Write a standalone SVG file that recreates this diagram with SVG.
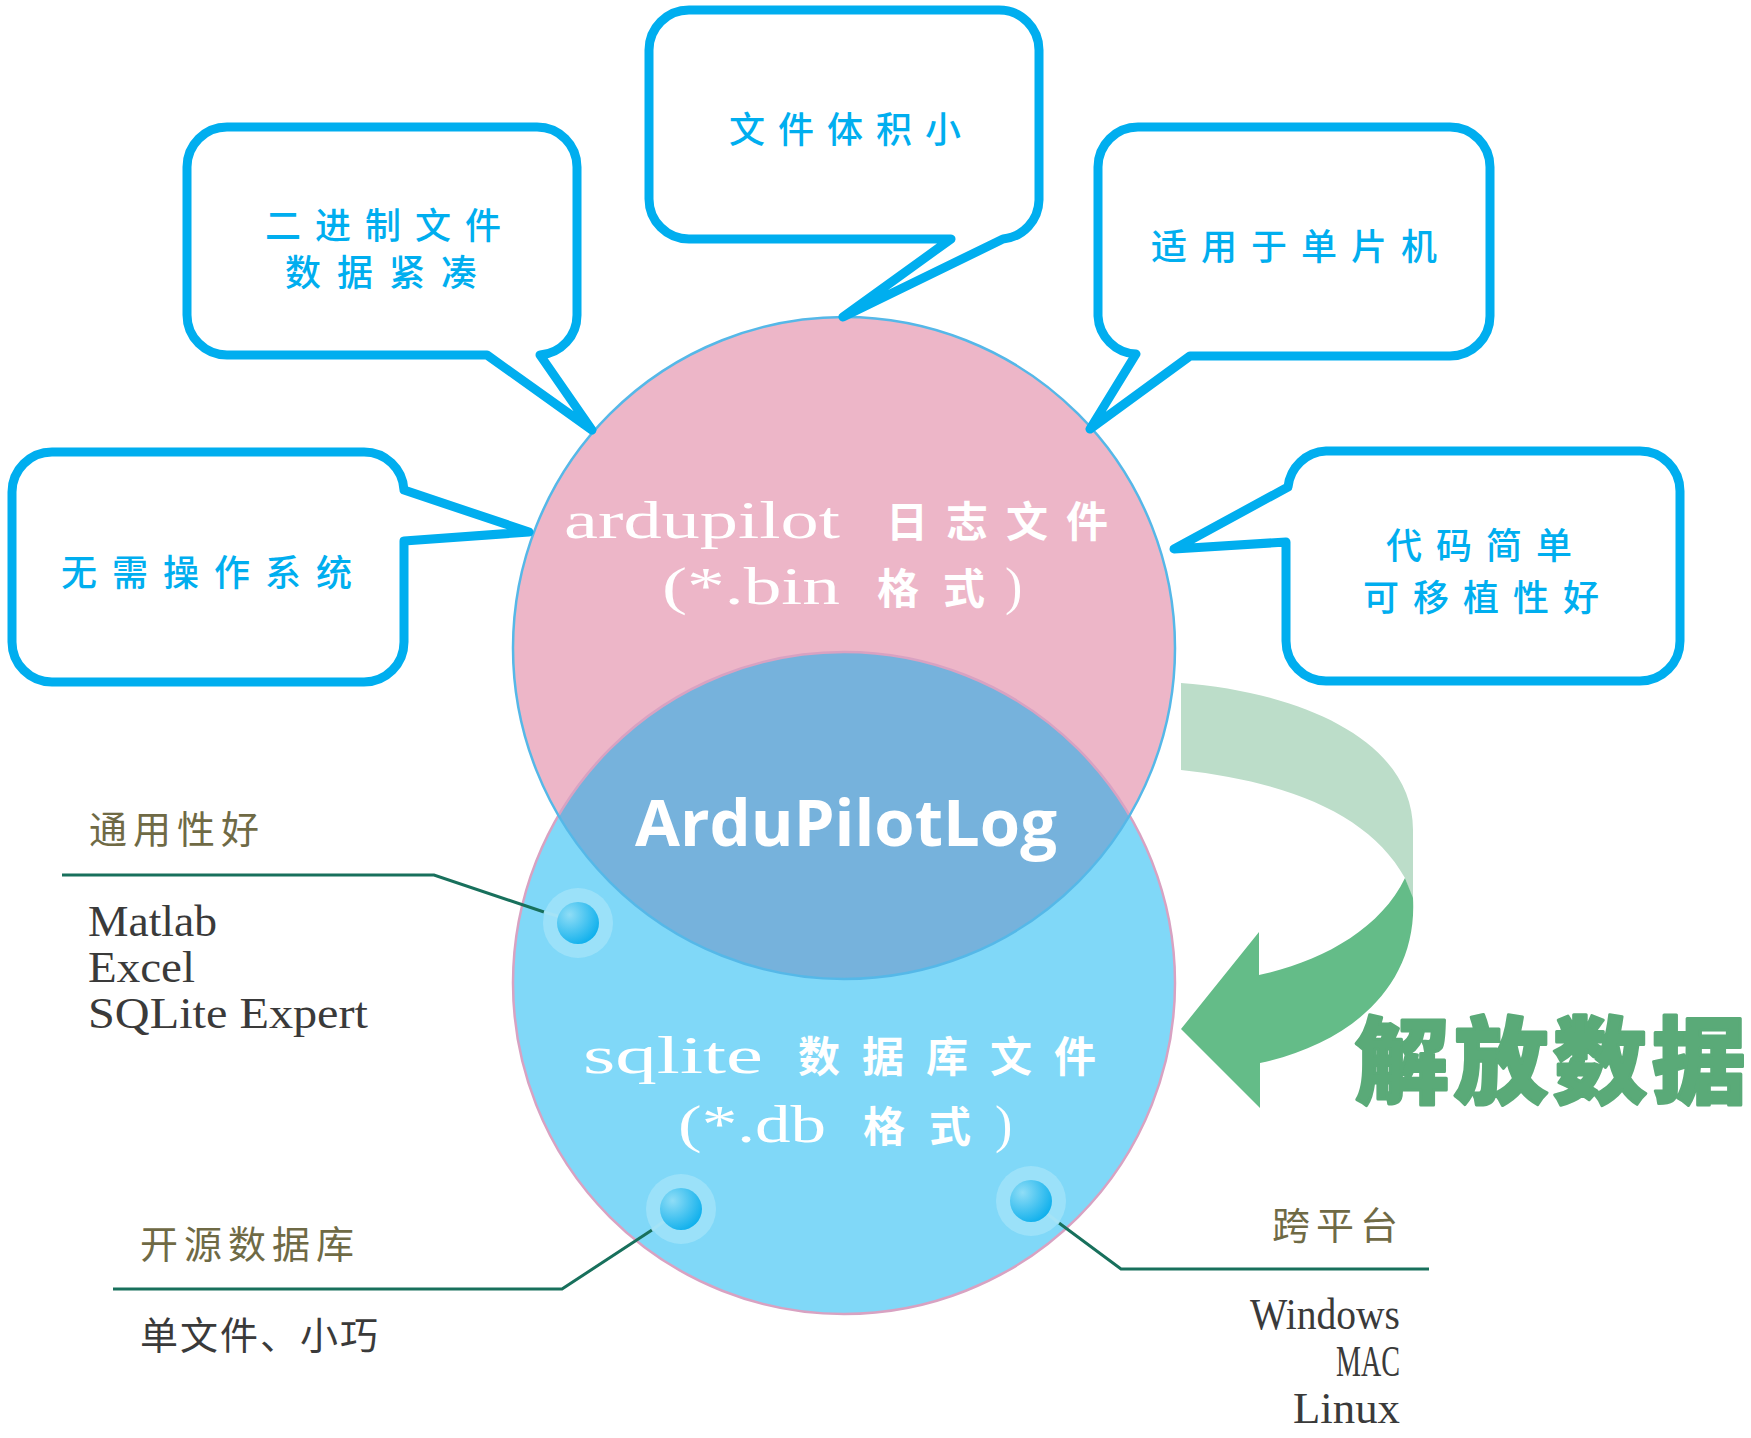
<svg xmlns="http://www.w3.org/2000/svg" width="1751" height="1438" viewBox="0 0 1751 1438">
<style>
.bubble{fill:#fff;stroke:#00AEEF;stroke-width:9;stroke-linejoin:round}
.btxt{font-family:"Noto Sans CJK SC",sans-serif;font-size:36px;fill:#00AEEF;font-weight:500}
.ser{font-family:"Liberation Serif",serif;fill:#fff}
.cjkw{font-family:"Noto Sans CJK SC",sans-serif;font-size:42px;font-weight:700;fill:#fff}
.title{font-family:"Noto Sans CJK SC",sans-serif;font-size:38px;fill:#6F6A45}
.note{font-family:"Noto Sans CJK SC",sans-serif;font-size:38px;fill:#3a3a3a}
.lat{font-family:"Liberation Serif",serif;font-size:44px;fill:#3a3a3a}
.lead{fill:none;stroke:#18705C;stroke-width:3}
.leadl{fill:none;stroke:#A6DDEA;stroke-width:3}
.halo{fill:#A4E4FA;fill-opacity:0.75}
.dot{fill:url(#dotg)}
</style>
<defs>
<radialGradient id="dotg" cx="0.3" cy="0.3" r="0.8">
<stop offset="0" stop-color="#8FDDF6"/>
<stop offset="1" stop-color="#0AAEEC"/>
</radialGradient>
<clipPath id="clipTop"><circle cx="844" cy="648" r="331"/></clipPath>
</defs>

<g id="venn">
<circle cx="844" cy="648" r="331" fill="#EDB6C8"/>
<circle cx="844" cy="983" r="331" fill="#80D8F8"/>
<circle cx="844" cy="983" r="331" fill="#76B2DC" clip-path="url(#clipTop)"/>
<circle cx="844" cy="983" r="331" fill="none" stroke="#D8A2C2" stroke-width="2.5"/>
<circle cx="844" cy="648" r="331" fill="none" stroke="#55B8E8" stroke-width="2.5"/>
</g>

<g id="node-bin">
<text class="ser" x="564" y="538" font-size="52" textLength="276" lengthAdjust="spacingAndGlyphs">ardupilot</text>
<text class="cjkw" x="886 946 1006 1066" y="537">日志文件</text>
<text class="ser" x="662" y="604" font-size="52" textLength="178" lengthAdjust="spacingAndGlyphs">(*.bin</text>
<text class="cjkw" x="877 943" y="604">格式</text>
<text class="ser" x="1005" y="604" font-size="52">)</text>
</g>

<g id="node-center">
<text x="635" y="846" font-family="Open Sans, Liberation Sans, sans-serif" font-weight="700" font-size="64" fill="#fff" textLength="422" lengthAdjust="spacingAndGlyphs">ArduPilotLog</text>
</g>

<g id="node-db">
<text class="ser" x="583" y="1073" font-size="52" textLength="180" lengthAdjust="spacingAndGlyphs">sqlite</text>
<text class="cjkw" x="798 862 926 990 1054" y="1072">数据库文件</text>
<text class="ser" x="678" y="1142" font-size="52" textLength="148" lengthAdjust="spacingAndGlyphs">(*.db</text>
<text class="cjkw" x="863 929" y="1142">格式</text>
<text class="ser" x="995" y="1142" font-size="52">)</text>
</g>

<g id="bubble-binary">
<path class="bubble" d="M227,127 H537 A40,40 0 0 1 577,167 V315 A40,40 0 0 1 540,355 L592,430 L487,355 H227 A40,40 0 0 1 187,315 V167 A40,40 0 0 1 227,127 Z"/>
<text class="btxt" x="265 315 365 415 465" y="239">二进制文件</text>
<text class="btxt" x="285 337 389 441" y="286">数据紧凑</text>
</g>

<g id="bubble-noos">
<path class="bubble" d="M52,452 H364 A40,40 0 0 1 404,490 L529,532 L404,541 V642 A40,40 0 0 1 364,682 H52 A40,40 0 0 1 12,642 V492 A40,40 0 0 1 52,452 Z"/>
<text class="btxt" x="61 112 163 214 265 316" y="586">无需操作系统</text>
</g>

<g id="bubble-small">
<path class="bubble" d="M689,10 H999 A40,40 0 0 1 1039,50 V200 A40,40 0 0 1 1003,239 L843,317 L951,239 H689 A40,40 0 0 1 649,199 V50 A40,40 0 0 1 689,10 Z"/>
<text class="btxt" x="729 778 827 876 925" y="143">文件体积小</text>
</g>

<g id="bubble-mcu">
<path class="bubble" d="M1138,127 H1450 A40,40 0 0 1 1490,167 V316 A40,40 0 0 1 1450,356 H1190 L1090,429 L1136,354 A40,40 0 0 1 1098,316 V167 A40,40 0 0 1 1138,127 Z"/>
<text class="btxt" x="1151 1201 1251 1301 1351 1401" y="260">适用于单片机</text>
</g>

<g id="bubble-code">
<path class="bubble" d="M1326,451 H1640 A40,40 0 0 1 1680,491 V641 A40,40 0 0 1 1640,681 H1326 A40,40 0 0 1 1286,641 V542 L1174,549 L1288,487 A40,40 0 0 1 1326,451 Z"/>
<text class="btxt" x="1386 1436 1486 1536" y="559">代码简单</text>
<text class="btxt" x="1363 1413 1463 1513 1563" y="611">可移植性好</text>
</g>

<g id="connectors">
<path class="lead" d="M62,875 H434 L544,912"/>
<path class="leadl" d="M544,912 L578,922"/>
<path class="lead" d="M113,1289 H562 L652,1230"/>
<path class="leadl" d="M652,1230 L681,1209"/>
<path class="lead" d="M1429,1269 H1121 L1059,1223"/>
<path class="leadl" d="M1059,1223 L1031,1201"/>
</g>

<g id="dot-general">
<circle class="halo" cx="578" cy="923" r="35"/>
<circle class="dot" cx="578" cy="923" r="21"/>
</g>
<g id="dot-open">
<circle class="halo" cx="681" cy="1209" r="35"/>
<circle class="dot" cx="681" cy="1209" r="21"/>
</g>
<g id="dot-cross">
<circle class="halo" cx="1031" cy="1201" r="35"/>
<circle class="dot" cx="1031" cy="1201" r="21"/>
</g>

<g id="note-general">
<text class="title" x="89 133 177 221" y="843">通用性好</text>
<text class="lat" x="88" y="936" textLength="129" lengthAdjust="spacingAndGlyphs">Matlab</text>
<text class="lat" x="88" y="982" textLength="107" lengthAdjust="spacingAndGlyphs">Excel</text>
<text class="lat" x="88" y="1028" textLength="280" lengthAdjust="spacingAndGlyphs">SQLite Expert</text>
</g>

<g id="note-open">
<text class="title" x="140 184 228 272 316" y="1258">开源数据库</text>
<text class="note" x="140 180 220 260 300 340" y="1349">单文件、小巧</text>
</g>

<g id="note-cross">
<text class="title" x="1272 1316 1360" y="1239">跨平台</text>
<text class="lat" x="1250" y="1329" textLength="150" lengthAdjust="spacingAndGlyphs">Windows</text>
<text class="lat" x="1336" y="1376" textLength="64" lengthAdjust="spacingAndGlyphs">MAC</text>
<text class="lat" x="1293" y="1423" textLength="107" lengthAdjust="spacingAndGlyphs">Linux</text>
</g>

<g id="arrow-free">
<path d="M1181,683 C1300,692 1413,740 1413,830 L1413,900 L1405,878 C1370,815 1290,782 1181,770 Z" fill="#BCDDC9"/>
<path d="M1405,878 L1413,898 C1418,990 1345,1045 1260,1063 L1260,1108 L1181,1029 L1259,932 L1259,975 C1320,962 1380,930 1405,878 Z" fill="#64BC88"/>
<text x="1355 1454 1553 1652" y="1096" font-family="Noto Sans CJK SC, sans-serif" font-size="94" font-weight="900" fill="#5AAA78" stroke="#5AAA78" stroke-width="3" stroke-linejoin="round">解放数据</text>
</g>
</svg>
